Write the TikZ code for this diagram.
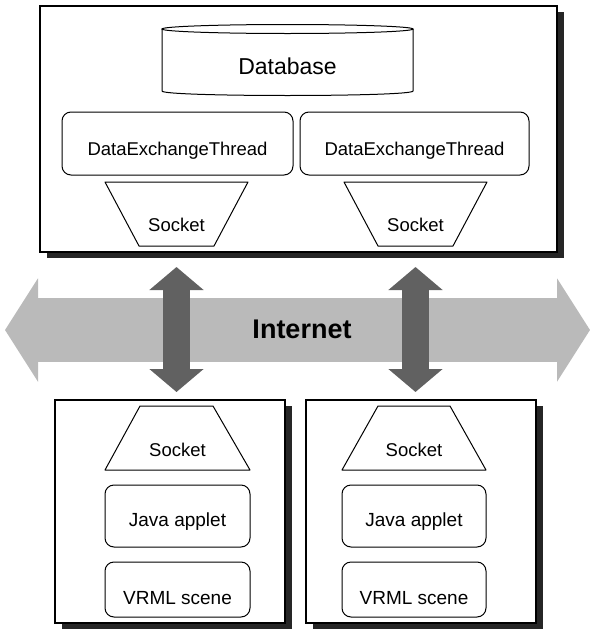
\documentclass[tikz,border=0pt]{standalone}
\usepackage{fontspec}
\setmainfont{Liberation Sans}
\usepackage{tikz}
\usetikzlibrary{arrows.meta,shadows}

\begin{document}
\begin{tikzpicture}[x=1pt,y=1pt]
\tikzstyle{every node}+=[inner sep=0pt]
\tikzstyle{panel}=[draw=black, line width=1.2pt, fill=white, drop shadow={shadow xshift=7pt, shadow yshift=-6pt, opacity=1, fill=black!85}]
\tikzstyle{roundbox}=[draw=black, line width=1pt, rounded corners=9pt]
\tikzstyle{sock}=[draw=black, line width=1pt, line join=round]
\tikzstyle{lbl}=[font=\fontsize{18.5pt}{21pt}\selectfont]
\tikzstyle{bigarrow}=[draw=black!62, line width=27pt, {Triangle[length=23pt,width=53pt]}-{Triangle[length=23pt,width=53pt]}]
\tikzstyle{netarrow}=[draw=black!27, line width=64pt, {Triangle[length=33pt,width=102pt]}-{Triangle[length=33pt,width=102pt]}]
\useasboundingbox (0,0) rectangle (594,-640);
\node [panel, minimum width=517pt, minimum height=246pt] (server) at (298.5,-129) {};
\draw [black, line width=1pt] (162,-29) -- (162,-91) .. controls (162,-97) and (413,-97) .. (413,-91) -- (413,-29);
\draw [black, line width=1pt] (287.5,-29) ellipse [x radius=125.5, y radius=4.5];
\node [font=\fontsize{23pt}{26pt}\selectfont] (db) at (287.5,-66) {Database};
\node [roundbox, minimum width=231pt, minimum height=63pt] (detL) at (177.5,-143.5) {};
\node [lbl] (detLtxt) at (177.5,-151) {DataExchangeThread};
\node [roundbox, minimum width=229pt, minimum height=63pt] (detR) at (414.5,-143.5) {};
\node [lbl] (detRtxt) at (414.5,-151) {DataExchangeThread};
\draw [sock] (105,-182) -- (248,-182) -- (214,-246) -- (139,-246) -- cycle;
\node [lbl] (sockTLtxt) at (176.5,-225) {Socket};
\draw [sock] (344,-182) -- (487,-182) -- (453,-246) -- (378,-246) -- cycle;
\node [lbl] (sockTRtxt) at (415.5,-225) {Socket};
\coordinate (netW) at (5,-330);
\coordinate (netE) at (590,-330);
\draw [netarrow] (netW) -- (netE);
\node [font=\bfseries\fontsize{27pt}{30pt}\selectfont] (net) at (302,-329) {Internet};
\node [panel, minimum width=230pt, minimum height=223pt] (clientL) at (170,-511.5) {};
\node [panel, minimum width=230pt, minimum height=223pt] (clientR) at (421,-511.5) {};
\draw [sock] (140,-406) -- (213,-406) -- (250,-470) -- (105,-470) -- cycle;
\node [lbl] (sockBLtxt) at (177.5,-450) {Socket};
\draw [sock] (378,-406) -- (450,-406) -- (486,-470) -- (342,-470) -- cycle;
\node [lbl] (sockBRtxt) at (414,-450) {Socket};
\node [roundbox, minimum width=145pt, minimum height=62pt] (javaL) at (177.5,-516) {};
\node [lbl, font=\fontsize{19pt}{22pt}\selectfont] (javaLtxt) at (177.5,-522) {Java applet};
\node [roundbox, minimum width=144pt, minimum height=62pt] (javaR) at (414,-516) {};
\node [lbl, font=\fontsize{19pt}{22pt}\selectfont] (javaRtxt) at (414,-522) {Java applet};
\node [roundbox, minimum width=145pt, minimum height=55pt] (vrmlL) at (177.5,-589.5) {};
\node [lbl, font=\fontsize{19pt}{22pt}\selectfont] (vrmlLtxt) at (177.5,-598) {VRML scene};
\node [roundbox, minimum width=144pt, minimum height=55pt] (vrmlR) at (414,-589.5) {};
\node [lbl, font=\fontsize{19pt}{22pt}\selectfont] (vrmlRtxt) at (414,-598) {VRML scene};
\draw [bigarrow, shorten <=42pt, shorten >=58pt] (sockTLtxt.center) -- (sockTLtxt.center |- sockBLtxt.center);
\draw [bigarrow, shorten <=42pt, shorten >=58pt] (sockTRtxt.center) -- (sockTRtxt.center |- sockBRtxt.center);
\end{tikzpicture}
\end{document}
